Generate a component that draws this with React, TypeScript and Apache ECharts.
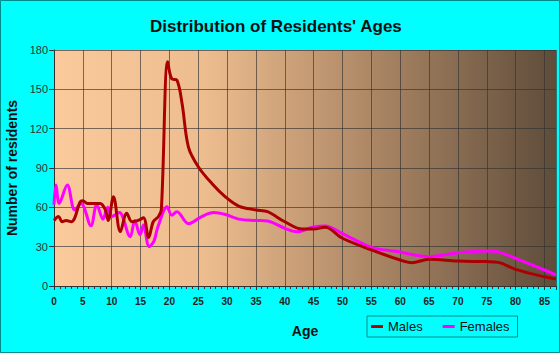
import React, { useEffect, useRef } from 'react';
import * as echarts from 'echarts';

const maleAges = [0, 0.8, 1.4, 2.1, 3, 3.6, 4.5, 5, 5.8, 8, 8.9, 9.4, 10.3, 11.5, 12.6, 13.5, 14.6, 15.5, 16.4, 17.2, 18.1, 18.6, 19.7, 20.4, 21.3, 22.2, 23.3, 25, 27.4, 29.7, 32, 35, 37, 40, 43, 45, 47, 50, 55, 60, 62, 65, 70, 75, 77, 80, 85, 87];
const maleValues = [50, 53, 49, 50, 49, 52, 64, 65, 63, 63, 58, 50, 68, 41.5, 55.5, 49, 50, 52, 37, 49, 53, 58, 171, 158, 157, 139, 106, 91, 78, 68, 61, 58, 56.7, 49, 43.5, 43.5, 44.8, 36.4, 27.5, 19.8, 17.8, 20.4, 19, 18.6, 18, 12.7, 7, 5.3];

const femaleAges = [0, 0.35, 0.9, 2.3, 3.6, 4.7, 6.4, 7.4, 8.5, 9.3, 10, 11.3, 13.2, 14, 14.9, 15.5, 16.5, 17.3, 18, 19.6, 20.4, 21.3, 23.3, 25.6, 27.7, 29.7, 32, 35, 37, 40, 42, 45, 47, 50, 55, 60, 62, 65, 70, 75, 77, 80, 85, 87];
const femaleValues = [62, 77, 63, 77, 58, 63, 46, 62, 51, 60, 53, 56, 37.6, 50, 39, 46.5, 30, 34, 45, 60.5, 54, 56.7, 47.5, 53, 56, 54.5, 51, 50, 49.5, 44, 41.4, 45, 45.8, 40, 29.5, 26, 24, 22.4, 25.4, 26.7, 26, 21, 12.2, 8.4];

const yTicks = [0, 30, 60, 90, 120, 150, 180];

const FONT = '"Liberation Sans", Arial, sans-serif';

export default function App() {
  const ref = useRef<HTMLDivElement>(null);
  useEffect(() => {
    const chart = echarts.init(ref.current!, null, { renderer: 'svg' });
    const males = maleAges.map((a, i) => [a, maleValues[i]]);
    const females = femaleAges.map((a, i) => [a, femaleValues[i]]);
    chart.setOption({
      animation: false,
      backgroundColor: '#00FFFF',
      textStyle: { fontFamily: FONT },
      graphic: [
        {
          type: 'rect',
          shape: { x: 0.5, y: 0.5, width: 559, height: 352 },
          style: { fill: 'none', stroke: '#008B8B', lineWidth: 1 },
          silent: true,
          z: 100,
        },
      ],
      title: {
        text: "Distribution of Residents' Ages",
        left: 145,
        top: 13,
        textStyle: { fontFamily: FONT, fontSize: 17, fontWeight: 'bold', color: '#111' },
      },
      grid: {
        left: 54,
        top: 50,
        right: 4,
        bottom: 67,
        outerBoundsMode: 'none',
        containLabel: false,
        show: true,
        borderWidth: 0,
        backgroundColor: new echarts.graphic.LinearGradient(0, 0, 1, 0, [
          { offset: 0, color: '#FACA9C' },
          { offset: 0.3, color: '#EDBD8F' },
          { offset: 0.6, color: '#B38C69' },
          { offset: 1, color: '#5E4C3A' },
        ]),
      },
      legend: {
        left: 367,
        top: 316,
        width: 155,
        height: 23,
        padding: [4, 8, 4, 4],
        borderColor: '#008B8B',
        borderWidth: 1,
        itemWidth: 12,
        itemHeight: 3,
        itemGap: 20,
        icon: 'rect',
        textStyle: { fontFamily: FONT, fontSize: 13, color: '#111' },
        data: ['Males', 'Females'],
      },
      xAxis: {
        type: 'value',
        min: 0,
        max: 87,
        interval: 5,
        name: 'Age',
        nameLocation: 'middle',
        nameGap: 38,
        nameTextStyle: { fontFamily: FONT, fontSize: 14, fontWeight: 'bold', color: '#111' },
        axisLine: { show: true, lineStyle: { color: '#333', width: 1 } },
        axisTick: { show: true, length: 4, lineStyle: { color: '#333' } },
        minorTick: { show: true, splitNumber: 5, length: 3, lineStyle: { color: '#333' } },
        axisLabel: {
          fontFamily: FONT,
          fontSize: 10,
          fontWeight: 'bold',
          color: '#222',
          margin: 10,
          formatter: (v: number) => (v % 5 === 0 ? String(v) : ''),
        },
        splitLine: { show: true, lineStyle: { color: 'rgba(50,50,50,0.65)', width: 1 } },
      },
      yAxis: {
        type: 'value',
        min: yTicks[0],
        max: yTicks[yTicks.length - 1],
        interval: 30,
        name: 'Number of residents',
        nameLocation: 'middle',
        nameGap: 35,
        nameTextStyle: { fontFamily: FONT, fontSize: 14, fontWeight: 'bold', color: '#111' },
        axisLine: { show: true, lineStyle: { color: '#333', width: 1 } },
        axisTick: { show: true, length: 5, lineStyle: { color: '#333' } },
        axisLabel: { fontFamily: FONT, fontSize: 11, color: '#333', margin: 6 },
        splitLine: { show: true, lineStyle: { color: 'rgba(50,50,50,0.65)', width: 1 } },
      },
      series: [
        {
          name: 'Females',
          type: 'line',
          data: females,
          smooth: 0.35,
          symbol: 'none',
          lineStyle: { color: '#FF00FF', width: 3 },
          itemStyle: { color: '#FF00FF' },
        },
        {
          name: 'Males',
          type: 'line',
          data: males,
          smooth: 0.35,
          symbol: 'none',
          lineStyle: { color: '#AA0000', width: 3 },
          itemStyle: { color: '#AA0000' },
        },
      ],
    });
    return () => chart.dispose();
  }, []);
  return <div ref={ref} style={{ position: 'absolute', left: 0, top: 0, width: 560, height: 353 }} />;
}
